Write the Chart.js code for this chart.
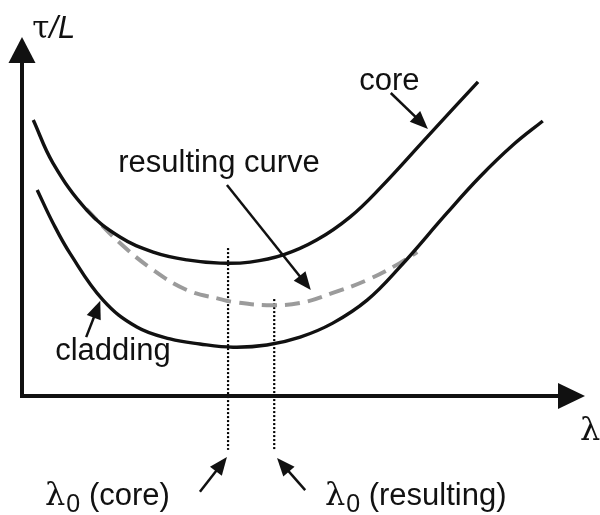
<!DOCTYPE html>
<html>
<head>
<meta charset="utf-8">
<script src="https://cdn.jsdelivr.net/npm/chart.js@4/dist/chart.umd.min.js"></script>
<style>
  html, body { margin: 0; padding: 0; background: #fff; }
  #c { display: block; }
</style>
</head>
<body>
<canvas id="c" width="600" height="515"></canvas>
<script>
// Delay per unit length (tau/L) against wavelength (lambda), arbitrary units.
const coreLambda = [0.20, 0.55, 1.15, 1.74, 2.33, 2.93, 3.52, 4.05, 4.64, 5.24, 5.83, 6.36, 7.21, 8.10];
const coreDelay  = [7.69, 6.49, 5.18, 4.43, 4.01, 3.79, 3.70, 3.73, 3.93, 4.35, 4.99, 5.79, 7.24, 8.75];

const claddingLambda = [0.27, 0.55, 0.85, 1.44, 2.04, 2.63, 3.16, 3.75, 4.35, 4.94, 5.52, 6.13, 6.71, 7.55, 8.13, 8.72, 9.25];
const claddingDelay  = [5.74, 4.82, 3.98, 2.67, 1.92, 1.59, 1.45, 1.36, 1.42, 1.64, 2.03, 2.67, 3.59, 5.10, 6.10, 6.99, 7.66];

const resultLambda = [1.14, 1.74, 2.33, 2.93, 3.52, 3.75, 4.35, 4.94, 5.52, 6.13, 6.71, 7.02];
const resultDelay  = [5.21, 4.26, 3.51, 2.95, 2.70, 2.62, 2.53, 2.59, 2.87, 3.23, 3.70, 4.01];

// Zero-dispersion wavelengths and the extent of their marker lines
const lambda0Core = 3.66;
const lambda0Result = 4.48;
const markerTopCore = 4.12;
const markerTopResult = 2.70;
const markerBottom = -1.50;

const axisMax = 10;

const toPoints = (xs, ys) => xs.map((x, i) => ({ x, y: ys[i] }));

// Text labels and pointer arrows, placed in data units
const labels = [
  { text: 'core', x: 5.99, y: 8.52 },
  { text: 'resulting curve', x: 1.71, y: 6.24 },
  { text: 'cladding', x: 0.59, y: 1.00 }
];
const subLabels = [
  { rest: ' (core)', x: 0.41, y: -3.04 },
  { rest: ' (resulting)', x: 5.38, y: -3.04 }
];
const pointers = [
  { from: [6.55, 8.44], to: [7.21, 7.44] },
  { from: [3.64, 5.88], to: [5.13, 2.95] },
  { from: [1.14, 1.64], to: [1.39, 2.65] },
  { from: [3.16, -2.67], to: [3.64, -1.70] },
  { from: [5.03, -2.62], to: [4.53, -1.73] }
];

const INK = '#111';
const FONT = '"Liberation Sans", Arial, sans-serif';

function arrowHead(ctx, x1, y1, x2, y2, len, half) {
  const a = Math.atan2(y2 - y1, x2 - x1);
  ctx.beginPath();
  ctx.moveTo(x2, y2);
  ctx.lineTo(x2 - len * Math.cos(a) + half * Math.sin(a), y2 - len * Math.sin(a) - half * Math.cos(a));
  ctx.lineTo(x2 - len * Math.cos(a) - half * Math.sin(a), y2 - len * Math.sin(a) + half * Math.cos(a));
  ctx.closePath();
  ctx.fill();
}

const sketchPlugin = {
  id: 'sketch',
  afterDatasetsDraw(chart) {
    const ctx = chart.ctx;
    const xs = chart.scales.x, ys = chart.scales.y;
    const px = v => xs.getPixelForValue(v);
    const py = v => ys.getPixelForValue(v);
    ctx.save();
    ctx.fillStyle = INK;
    ctx.strokeStyle = INK;

    // axes with arrowheads
    const ox = px(0), oy = py(0);
    const xEnd = px(axisMax), yEnd = py(axisMax);
    ctx.lineWidth = 4;
    ctx.lineCap = 'butt';
    ctx.beginPath();
    ctx.moveTo(ox, oy + 2);
    ctx.lineTo(ox, yEnd + 20);
    ctx.moveTo(ox - 2, oy);
    ctx.lineTo(xEnd - 20, oy);
    ctx.stroke();
    arrowHead(ctx, ox, oy, ox, yEnd, 26, 13.5);
    arrowHead(ctx, ox, oy, xEnd, oy, 27, 13);

    // pointer arrows
    ctx.lineWidth = 2.5;
    pointers.forEach(p => {
      const x1 = px(p.from[0]), y1 = py(p.from[1]);
      const x2 = px(p.to[0]), y2 = py(p.to[1]);
      const a = Math.atan2(y2 - y1, x2 - x1);
      ctx.beginPath();
      ctx.moveTo(x1, y1);
      ctx.lineTo(x2 - 10 * Math.cos(a), y2 - 10 * Math.sin(a));
      ctx.stroke();
      arrowHead(ctx, x1, y1, x2, y2, 18, 7.5);
    });

    // curve labels
    ctx.textBaseline = 'alphabetic';
    ctx.textAlign = 'left';
    ctx.font = `31px ${FONT}`;
    labels.forEach(l => ctx.fillText(l.text, px(l.x), py(l.y)));

    // lambda_0 labels
    subLabels.forEach(l => {
      let x = px(l.x);
      const y = py(l.y);
      ctx.font = `32px "DejaVu Serif", serif`;
      ctx.fillText('λ', x, y);
      x += ctx.measureText('λ').width + 1;
      ctx.font = `25px ${FONT}`;
      ctx.fillText('0', x, y + 7);
      x += ctx.measureText('0').width;
      ctx.font = `31px ${FONT}`;
      ctx.fillText(l.rest, x, y);
    });

    // axis titles
    ctx.font = `32px "DejaVu Serif", serif`;
    ctx.fillText('λ', px(9.91), py(-1.23));
    let tx = px(0.18);
    const ty = py(9.97);
    ctx.font = `31px "DejaVu Serif", serif`;
    ctx.fillText('τ', tx, ty);
    tx += ctx.measureText('τ').width;
    ctx.font = `italic 31px ${FONT}`;
    ctx.fillText('/L', tx, ty);

    ctx.restore();
  }
};

const curveStyle = {
  showLine: true, pointRadius: 0, fill: false, clip: false,
  tension: 0.4
};
const markerStyle = {
  showLine: true, pointRadius: 0, clip: false, tension: 0,
  borderColor: '#000', borderWidth: 2.2, borderDash: [2, 2]
};

new Chart(document.getElementById('c'), {
  type: 'scatter',
  data: {
    datasets: [
      { label: 'core', data: toPoints(coreLambda, coreDelay), borderColor: INK, borderWidth: 3.4, ...curveStyle },
      { label: 'cladding', data: toPoints(claddingLambda, claddingDelay), borderColor: INK, borderWidth: 3.4, ...curveStyle },
      { label: 'resulting curve', data: toPoints(resultLambda, resultDelay), borderColor: '#9b9b9b', borderWidth: 4, borderDash: [15, 8], ...curveStyle },
      { label: 'λ0 (core)', data: [{ x: lambda0Core, y: markerTopCore }, { x: lambda0Core, y: markerBottom }], ...markerStyle },
      { label: 'λ0 (resulting)', data: [{ x: lambda0Result, y: markerTopResult }, { x: lambda0Result, y: markerBottom }], ...markerStyle }
    ]
  },
  options: {
    responsive: false,
    animation: false,
    devicePixelRatio: 1,
    layout: { padding: { left: 22, right: 15, top: 37, bottom: 119 } },
    scales: {
      x: { type: 'linear', min: 0, max: axisMax, display: false },
      y: { type: 'linear', min: 0, max: axisMax, display: false }
    },
    plugins: { legend: { display: false }, tooltip: { enabled: false } }
  },
  plugins: [sketchPlugin]
});
</script>
</body>
</html>
